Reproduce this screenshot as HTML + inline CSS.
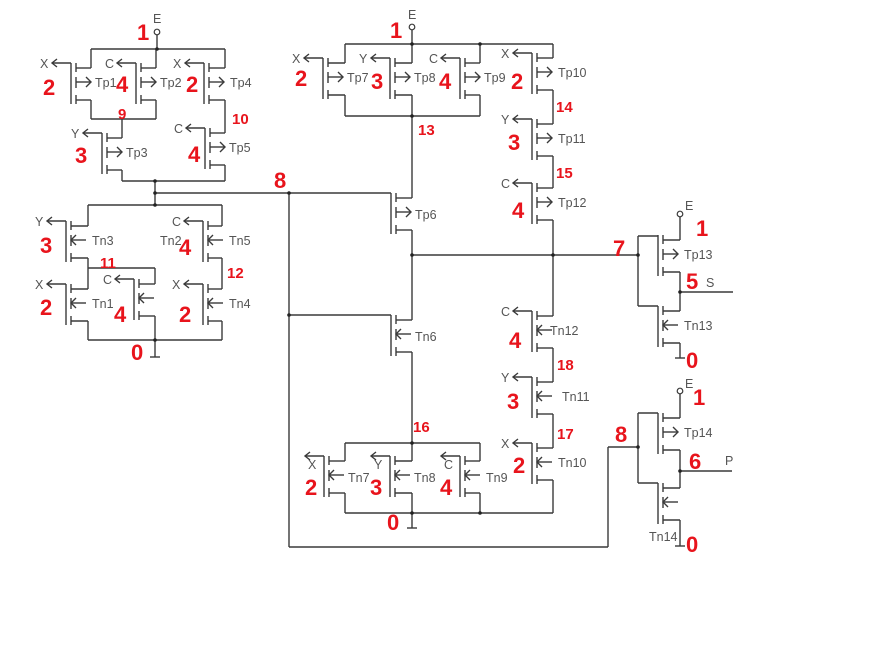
<!DOCTYPE html>
<html><head><meta charset="utf-8"><style>
html,body{margin:0;padding:0;background:#fff;width:890px;height:670px;overflow:hidden}
svg{display:block}
.w{stroke:#3a3a3a;stroke-width:1.4;fill:none}
.g{font-family:"Liberation Sans",sans-serif;font-size:12.5px;fill:#555}
.r{font-family:"Liberation Sans",sans-serif;font-size:22px;font-weight:bold;fill:#e8141c}
.rs{font-size:15px}
</style></head><body>
<svg id="sch" width="890" height="670" viewBox="0 0 890 670" xmlns="http://www.w3.org/2000/svg"></svg>
<script>
const NS="http://www.w3.org/2000/svg";
const svg=document.getElementById('sch');
// transistors: name, type, gate x, gate top y, right x, input label, label pos mode, name label dx,dy
const transistors=[
["Tp1","p",71,63,91,"X","L",24,24],["Tp2","p",136,63,156,"C","L",24,24],["Tp4","p",204,63,225,"X","L",26,24],
["Tp3","p",102,133,122,"Y","L",24,24],["Tp5","p",205,128,225,"C","L",24,24],
["Tn3","n",66,221,88,"Y","L",26,24],["Tn5","n",203,221,222,"C","L",26,24],
["Tn1","n",66,284,88,"X","L",26,24],["","n",134,279,155,"C","L",26,24],["Tn4","n",203,284,222,"X","L",26,24],
["Tp7","p",323,58,345,"X","L",24,24],["Tp8","p",390,58,412,"Y","L",24,24],["Tp9","p",460,58,480,"C","L",24,24],
["Tp10","p",532,53,553,"X","L",26,24],["Tp11","p",532,119,553,"Y","L",26,24],["Tp12","p",532,183,553,"C","L",26,24],
["Tp6","p",391,193,412,"","N",24,26],["Tn6","n",391,315,412,"","N",24,26],
["Tn12","n",532,311,553,"C","L",18,24],["Tn11","n",532,377,553,"Y","L",30,24],["Tn10","n",532,443,553,"X","L",26,24],
["Tn7","n",324,456,345,"X","B",24,26],["Tn8","n",390,456,412,"Y","B",24,26],["Tn9","n",460,456,480,"C","B",26,26],
["Tp13","p",658,235,680,"","N",26,24],["Tn13","n",658,306,680,"","N",26,24],
["Tp14","p",658,413,680,"","N",26,24],["","n",658,483,680,"","N",26,24]
];
const wires=[
[91,68,91,49],[91,49,225,49],[156,68,156,49],[225,68,225,49],[157,49,157,35],
[91,100,91,119],[91,119,156,119],[156,100,156,119],[122,119,122,138],[225,100,225,133],
[122,170,122,181],[122,181,225,181],[225,165,225,181],[155,181,155,205],[155,193,391,193],
[289,193,289,547],[289,547,608,547],[608,547,608,447],[608,447,638,447],[289,315,391,315],
[88,205,222,205],[88,226,88,205],[222,226,222,205],[88,258,88,289],[88,268,155,268],[155,268,155,284],
[222,258,222,289],[88,321,88,340],[155,316,155,340],[222,321,222,340],[88,340,222,340],[155,340,155,357],[150,357,160,357],
[412,44,412,30],[345,44,553,44],[345,63,345,44],[412,63,412,44],[480,63,480,44],[553,58,553,44],
[345,95,345,116],[412,95,412,116],[480,95,480,116],[345,116,480,116],[412,116,412,198],[412,230,412,255],
[553,90,553,124],[553,156,553,188],[553,220,553,255],[412,255,638,255],[412,255,412,320],[412,352,412,443],
[553,316,553,255],[553,348,553,382],[553,414,553,448],[553,480,553,513],
[345,443,480,443],[345,461,345,443],[412,461,412,443],[480,461,480,443],
[345,493,345,513],[412,493,412,513],[480,493,480,513],[345,513,553,513],[412,513,412,528],[407,528,417,528],
[638,236,638,306],[638,236,658,236],[638,306,658,306],[680,240,680,217],[680,272,680,311],[680,292,733,292],[680,343,680,358],[675,358,685,358],
[638,413,638,483],[638,413,658,413],[638,483,658,483],[680,418,680,394],[680,450,680,488],[680,471,732,471],[680,520,680,546],[675,546,685,546]
];
const dots=[[157,49],[155,181],[155,193],[289,193],[289,315],[155,205],[155,340],[412,44],[480,44],[412,116],[412,255],[553,255],[638,255],[412,513],[480,513],[412,443],[680,292],[638,447],[680,471]];
const pins=[[157,32],[412,27],[680,214],[680,391]];
const pinLabels=[["E",153,23],["E",408,19],["E",685,210],["E",685,388],["S",706,287],["P",725,465],["Tn14",649,541]];
const redLabels=[
["1",137,40,0],["2",43,95,0],["4",116,92,0],["2",186,92,0],["9",118,119,1],["10",232,124,1],["3",75,163,0],["4",188,162,0],["8",274,188,0],
["3",40,253,0],["4",179,255,0],["11",100,268,1],["12",227,278,1],["2",40,315,0],["4",114,322,0],["2",179,322,0],["0",131,360,0],
["1",390,38,0],["2",295,86,0],["3",371,89,0],["4",439,89,0],["2",511,89,0],["13",418,135,1],["14",556,112,1],["3",508,150,0],["15",556,178,1],["4",512,218,0],
["7",613,256,0],["1",696,236,0],["5",686,289,0],["0",686,368,0],
["4",509,348,0],["18",557,370,1],["3",507,409,0],["17",557,439,1],["2",513,473,0],["16",413,432,1],
["2",305,495,0],["3",370,495,0],["4",440,495,0],["0",387,530,0],["8",615,442,0],["1",693,405,0],["6",689,469,0],["0",686,552,0]
];
function el(tag,attrs,parent){const e=document.createElementNS(NS,tag);for(const k in attrs)e.setAttribute(k,attrs[k]);(parent||svg).appendChild(e);return e;}
function line(x1,y1,x2,y2,p){return el('line',{x1,y1,x2,y2,class:'w'},p);}
wires.forEach(w=>{const l=line(w[0],w[1],w[2],w[3]);

});
transistors.forEach(t=>{
 const [nm,ty,gx,gy,rx,inp,mode,ndx,ndy]=t;
 const g=el('g',{});
 
 
 const cx=gx+5;
 line(gx,gy,gx,gy+41,g);
 line(cx,gy,cx,gy+9,g);line(cx,gy+14,cx,gy+25,g);line(cx,gy+32,cx,gy+41,g);
 line(cx,gy+5,rx,gy+5,g);line(cx,gy+37,rx,gy+37,g);
 const ay=gy+19;
 if(ty==='p'){line(cx,ay,cx+15,ay,g);el('polyline',{points:`${cx+10},${ay-5} ${cx+15},${ay} ${cx+10},${ay+5}`,class:'w'},g);}
 else{line(cx,ay,cx+15,ay,g);el('polyline',{points:`${cx+5},${ay-5} ${cx},${ay} ${cx+5},${ay+5}`,class:'w'},g);}
 if(inp){
  line(gx-19,gy,gx,gy,g);
  el('polyline',{points:`${gx-14},${gy-4} ${gx-19},${gy} ${gx-14},${gy+4}`,class:'w'},g);
  const tx=el('text',{class:'g',x:mode==='B'?gx-16:gx-31,y:mode==='B'?gy+13:gy+5},g);tx.textContent=inp;
 }
 if(nm && nm!=='Tn14'){const tx=el('text',{class:'g',x:gx+ndx,y:gy+ndy},g);tx.textContent=nm;}
});
const t2=el('text',{class:'g',x:160,y:245});t2.textContent='Tn2';


dots.forEach(d=>{const c=el('circle',{cx:d[0],cy:d[1],r:1.8,fill:'#222'});

});
pins.forEach(p=>{const c=el('circle',{cx:p[0],cy:p[1],r:2.8,fill:'#fff',stroke:'#3a3a3a','stroke-width':1.2});

});
pinLabels.forEach(p=>{const t=el('text',{class:'g',x:p[1],y:p[2]});t.textContent=p[0];

});
redLabels.forEach(p=>{const t=el('text',{class:p[3]?'r rs':'r',x:p[1],y:p[2]});t.textContent=p[0];

});
</script>
</body></html>
